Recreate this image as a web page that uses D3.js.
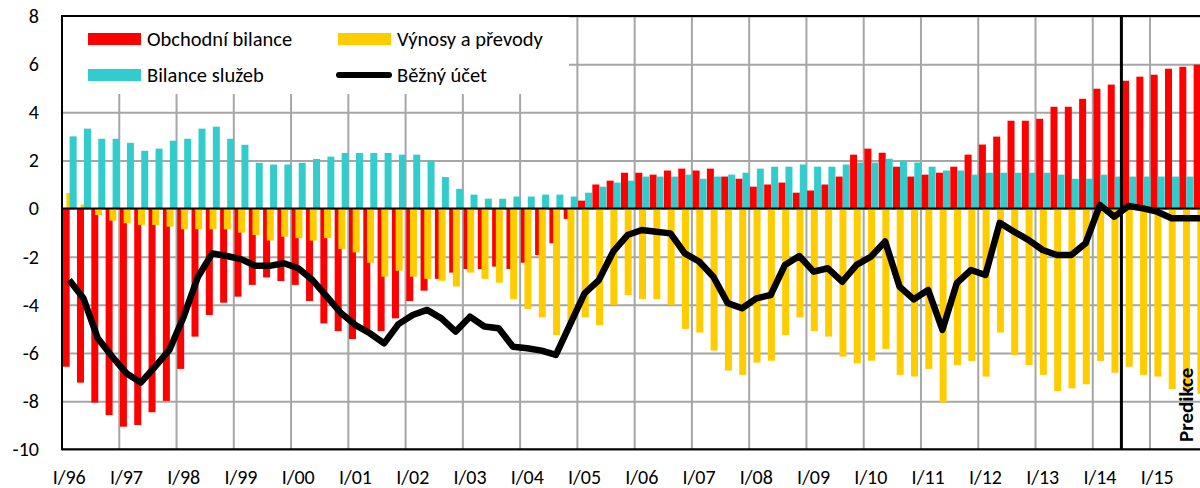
<!DOCTYPE html>
<html>
<head>
<meta charset="utf-8">
<script src="https://cdn.jsdelivr.net/npm/d3@7"></script>
<style>
  body { margin: 0; background: #fff; }
  text { font-family: Carlito, Lato, sans-serif; fill: #000; }
</style>
</head>
<body>
<svg id="chart" width="1200" height="488"></svg>
<script>
// categories: quarters I/96 .. IV/15
const years = ["96","97","98","99","00","01","02","03","04","05",
               "06","07","08","09","10","11","12","13","14","15"];
const quarter_names = ["I","II","III","IV"];
const y_ticks = [8, 6, 4, 2, 0, -2, -4, -6, -8, -10];
const forecast_start = "III/14";

// Obchodní bilance
const trade = [
  -6.57, -7.23, -8.06, -8.58, -9.06, -8.99, -8.46, -7.99, -6.66, -5.32,
  -4.42, -3.91, -3.66, -3.17, -2.86, -3.01, -3.17, -3.84, -4.77, -5.09,
  -5.42, -5.12, -5.09, -4.56, -3.84, -3.41, -2.92, -2.66, -2.51, -2.51,
  -2.41, -2.51, -2.25, -1.93, -1.44, -0.43, 0.33, 1.0, 1.16, 1.49,
  1.49, 1.41, 1.58, 1.66, 1.58, 1.66, 1.33, 1.24, 0.91, 1.0,
  1.08, 0.66, 0.75, 1.0, 1.33, 2.24, 2.49, 2.32, 1.74, 1.33,
  1.41, 1.49, 1.74, 2.24, 2.66, 2.99, 3.65, 3.65, 3.73, 4.23,
  4.23, 4.56, 4.98, 5.15, 5.31, 5.48, 5.56, 5.81, 5.89, 5.98
];

// Výnosy a převody
const income = [
  0.65, 0.17, -0.27, -0.5, -0.61, -0.68, -0.68, -0.75, -0.86, -0.86,
  -0.86, -0.86, -1.0, -1.1, -1.33, -1.17, -1.23, -1.33, -1.23, -1.68,
  -1.82, -2.25, -2.83, -2.58, -2.83, -2.92, -3.0, -3.24, -2.66, -2.92,
  -3.08, -3.76, -4.17, -4.52, -5.25, -4.8, -4.52, -4.84, -4.0, -3.59,
  -3.76, -3.76, -4.0, -5.0, -5.15, -5.9, -6.73, -6.91, -6.4, -6.32,
  -5.25, -4.52, -5.09, -5.32, -6.15, -6.43, -6.32, -5.83, -6.91, -6.98,
  -6.66, -8.06, -6.5, -6.33, -6.98, -5.15, -6.08, -6.5, -6.91, -7.58,
  -7.47, -7.3, -6.33, -6.82, -6.57, -6.91, -6.98, -7.5, -7.62, -7.7
];

// Bilance služeb
const services = [
  3.0, 3.32, 2.9, 2.9, 2.73, 2.4, 2.49, 2.82, 2.9, 3.32,
  3.4, 2.9, 2.65, 1.9, 1.83, 1.83, 1.9, 2.06, 2.16, 2.31,
  2.31, 2.31, 2.31, 2.24, 2.24, 1.99, 1.31, 0.82, 0.58, 0.41,
  0.41, 0.5, 0.5, 0.58, 0.58, 0.5, 0.66, 0.91, 1.08, 1.16,
  1.33, 1.33, 1.33, 1.41, 1.24, 1.33, 1.41, 1.49, 1.66, 1.74,
  1.74, 1.83, 1.74, 1.74, 1.83, 1.91, 1.91, 2.07, 1.99, 1.91,
  1.74, 1.58, 1.58, 1.41, 1.49, 1.49, 1.49, 1.49, 1.49, 1.41,
  1.24, 1.24, 1.41, 1.33, 1.33, 1.33, 1.33, 1.33, 1.33, 1.33
];

// Běžný účet
const current_account = [
  -2.97, -3.73, -5.39, -6.15, -6.84, -7.23, -6.57, -5.87, -4.49, -2.83,
  -1.86, -1.97, -2.1, -2.38, -2.38, -2.27, -2.48, -2.97, -3.66, -4.35,
  -4.84, -5.18, -5.6, -4.8, -4.42, -4.21, -4.56, -5.11, -4.49, -4.9,
  -4.97, -5.74, -5.8, -5.9, -6.08, -4.8, -3.52, -2.97, -1.79, -1.1,
  -0.89, -0.96, -1.03, -1.86, -2.2, -2.83, -3.93, -4.14, -3.73, -3.59,
  -2.34, -1.97, -2.62, -2.48, -3.04, -2.34, -2.0, -1.37, -3.24, -3.77,
  -3.38, -5.04, -3.1, -2.55, -2.76, -0.59, -0.96, -1.3, -1.72, -1.93,
  -1.93, -1.44, 0.15, -0.34, 0.11, 0.01, -0.13, -0.4, -0.4, -0.4
];

const categories = years.flatMap(yr => quarter_names.map(q => q + "/" + yr));

// bar series: offset of the bar inside the category, drawn in this order
const bar_series = [
  {name: "Obchodní bilance", values: trade, color: "#ff0000", offset: -6.5},
  {name: "Výnosy a převody", values: income, color: "#ffcc00", offset: -2.8},
  {name: "Bilance služeb", values: services, color: "#33cccc", offset: 0.5}
];

const plot_left = 62, plot_right = 1207.3, plot_top = 16, plot_bottom = 449.3;
const bar_w = 7;

const svg = d3.select("#chart");

const x = d3.scaleBand().domain(categories).range([plot_left, plot_right]).padding(0);
const y = d3.scaleLinear().domain([-10, 8]).range([plot_bottom, plot_top]);
const cx = c => x(c) + x.bandwidth() / 2;

// horizontal gridlines + y labels
svg.append("g")
  .attr("transform", `translate(${plot_left},0)`)
  .call(d3.axisLeft(y).tickValues(y_ticks).tickSize(-(plot_right - plot_left))
    .tickPadding(23).tickFormat(d => String(d)))
  .call(g => g.select(".domain").remove())
  .call(g => g.selectAll(".tick line").attr("stroke", "#a6a6a6").attr("stroke-width", 2))
  .call(g => g.selectAll(".tick text").attr("font-size", 20).attr("font-family", null));

// vertical gridlines at year boundaries
svg.append("g").selectAll("line")
  .data(categories.filter((c, i) => i > 0 && c.startsWith("I/")))
  .enter().append("line")
    .attr("x1", d => x(d)).attr("x2", d => x(d))
    .attr("y1", plot_top).attr("y2", plot_bottom)
    .attr("stroke", "#a6a6a6").attr("stroke-width", 2);

// legend box hides part of the grid
svg.append("rect")
  .attr("x", plot_left + 1).attr("y", plot_top + 1)
  .attr("width", 569 - plot_left - 1).attr("height", 94 - plot_top - 1)
  .attr("fill", "#fff");

// bars
bar_series.forEach(s => {
  svg.append("g").selectAll("rect")
    .data(categories.map((c, i) => ({c: c, v: s.values[i]})))
    .enter().append("rect")
      .attr("x", d => cx(d.c) + s.offset)
      .attr("width", bar_w)
      .attr("y", d => y(Math.max(0, d.v)))
      .attr("height", d => Math.abs(y(d.v) - y(0)))
      .attr("fill", s.color);
});

// frame and zero line
svg.append("line").attr("x1", plot_left).attr("x2", 1200).attr("y1", plot_top).attr("y2", plot_top)
  .attr("stroke", "#000").attr("stroke-width", 2);
svg.append("line").attr("x1", plot_left).attr("x2", 1200).attr("y1", plot_bottom).attr("y2", plot_bottom)
  .attr("stroke", "#000").attr("stroke-width", 2);
svg.append("line").attr("x1", plot_left).attr("x2", plot_left).attr("y1", plot_top - 1).attr("y2", plot_bottom + 1)
  .attr("stroke", "#000").attr("stroke-width", 2);
svg.append("line").attr("x1", plot_left).attr("x2", 1200).attr("y1", y(0)).attr("y2", y(0))
  .attr("stroke", "#000").attr("stroke-width", 2);

// forecast divider
svg.append("line")
  .attr("x1", x(forecast_start)).attr("x2", x(forecast_start))
  .attr("y1", plot_top).attr("y2", plot_bottom)
  .attr("stroke", "#000").attr("stroke-width", 3);

// current account line
svg.append("path")
  .datum(current_account)
  .attr("fill", "none")
  .attr("stroke", "#000")
  .attr("stroke-width", 6.5)
  .attr("stroke-linejoin", "round")
  .attr("d", d3.line().x((d, i) => cx(categories[i])).y(d => y(d)));

// x labels, one per year
svg.append("g")
  .attr("transform", `translate(0,${plot_bottom})`)
  .call(d3.axisBottom(x).tickValues(categories.filter(c => c.startsWith("I/")))
    .tickSize(0).tickPadding(21))
  .call(g => g.select(".domain").remove())
  .call(g => g.selectAll(".tick text").attr("font-size", 20).attr("font-family", null));

// Predikce label
svg.append("text")
  .attr("transform", "translate(1193,442) rotate(-90)")
  .attr("font-size", 21)
  .attr("font-weight", "bold")
  .text("Predikce");

// legend
const legend = [
  {name: "Obchodní bilance", color: "#ff0000", x: 88, y: 39, type: "bar"},
  {name: "Výnosy a převody", color: "#ffcc00", x: 338, y: 39, type: "bar"},
  {name: "Bilance služeb", color: "#33cccc", x: 88, y: 75, type: "bar"},
  {name: "Běžný účet", color: "#000", x: 338, y: 75, type: "line"}
];
const lg = svg.append("g").selectAll("g").data(legend).enter().append("g");
lg.filter(d => d.type == "bar").append("rect")
  .attr("x", d => d.x).attr("y", d => d.y - 6)
  .attr("width", 53).attr("height", 12)
  .attr("fill", d => d.color);
lg.filter(d => d.type == "line").append("line")
  .attr("x1", d => d.x + 1).attr("x2", d => d.x + 51)
  .attr("y1", d => d.y).attr("y2", d => d.y)
  .attr("stroke", d => d.color).attr("stroke-width", 6)
  .attr("stroke-linecap", "round");
lg.append("text")
  .attr("x", d => d.x + 59).attr("y", d => d.y + 6.5)
  .attr("font-size", 20.5)
  .text(d => d.name);
</script>
</body>
</html>
